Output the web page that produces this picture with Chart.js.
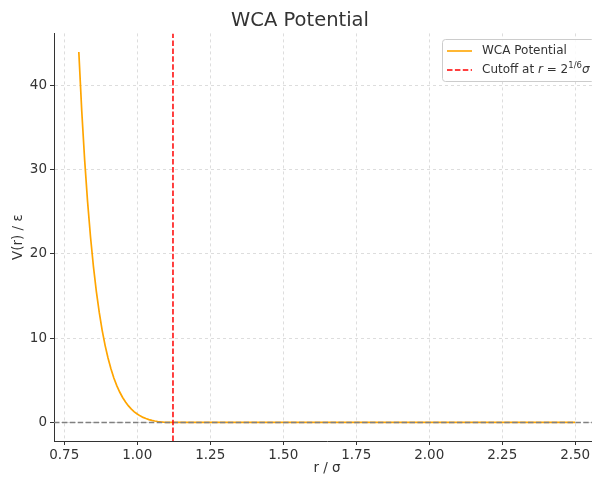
<!DOCTYPE html>
<html>
<head>
<meta charset="utf-8">
<script src="https://cdn.jsdelivr.net/npm/chart.js@4"></script>
<style>
  html, body { margin: 0; padding: 0; background: #fff; overflow: hidden; }
  #wrap { width: 592px; height: 478px; overflow: hidden; }
</style>
</head>
<body>
<div id="wrap"><canvas id="chart" width="600" height="478"></canvas></div>
<script>
// データ
const rValues = [0.80, 0.81, 0.82, 0.83, 0.84, 0.85, 0.86, 0.87, 0.88, 0.89,
                 0.90, 0.91, 0.92, 0.93, 0.94, 0.95, 0.96, 0.97, 0.98, 0.99,
                 1.00, 1.01, 1.02, 1.03, 1.04, 1.05, 1.06, 1.07, 1.08, 1.09,
                 1.10, 1.11, 1.12, 1.13, 1.50, 2.00, 2.50];
const vValues = [43.95, 36.98, 31.12, 26.19, 22.03, 18.52, 15.55, 13.05, 10.93, 9.15,
                 7.64, 6.36, 5.28, 4.37, 3.61, 2.96, 2.42, 1.96, 1.58, 1.26,
                 1.00, 0.78, 0.60, 0.46, 0.34, 0.24, 0.17, 0.11, 0.07, 0.04,
                 0.02, 0.005, 0, 0, 0, 0, 0];
const cutoff = 1.1225;
const xLimits = [0.715, 2.585];
const yLimits = [-2.2, 46.15];
const xTicks = [0.75, 1.00, 1.25, 1.50, 1.75, 2.00, 2.25, 2.50];
const yTicks = [0, 10, 20, 30, 40];

const FONT = "'DejaVu Sans', sans-serif";
const TEXT = '#333333';

// 凡例 (mathtext風)
const legendPlugin = {
    id: 'mplLegend',
    afterDraw(chart) {
        const ctx = chart.ctx;
        const x0 = 442, y0 = 39, w = 152, h = 42;
        ctx.save();
        ctx.fillStyle = 'rgba(255,255,255,0.85)';
        ctx.strokeStyle = '#cccccc';
        ctx.lineWidth = 1;
        ctx.beginPath();
        ctx.roundRect(x0 + 0.5, y0 + 0.5, w, h, 3);
        ctx.fill();
        ctx.stroke();

        // WCA Potential
        ctx.lineWidth = 1.6;
        ctx.strokeStyle = '#ffa500';
        ctx.beginPath();
        ctx.moveTo(447, 51); ctx.lineTo(472, 51);
        ctx.stroke();
        ctx.fillStyle = TEXT;
        ctx.font = '12px ' + FONT;
        ctx.textBaseline = 'middle';
        ctx.fillText('WCA Potential', 482, 51);

        // Cutoff
        ctx.strokeStyle = 'red';
        ctx.setLineDash([5.5, 2.4]);
        ctx.beginPath();
        ctx.moveTo(447, 70); ctx.lineTo(472, 70);
        ctx.stroke();
        ctx.setLineDash([]);
        let x = 482;
        const y = 70;
        const put = (t, font, dy) => {
            ctx.font = font;
            ctx.fillText(t, x, y + (dy || 0));
            x += ctx.measureText(t).width;
        };
        put('Cutoff at ', '12px ' + FONT);
        put('r', 'italic 12px ' + FONT);
        put(' = 2', '12px ' + FONT);
        put('1/6', '8.5px ' + FONT, -4);
        put('σ', 'italic 12px ' + FONT);
        ctx.restore();
    }
};

const gridOpts = {
    color: 'rgba(0,0,0,0.17)',
    lineWidth: 0.8,
    tickColor: '#333333',
    tickBorderDash: [],
    tickWidth: 1,
    tickLength: 4
};

const ctx = document.getElementById('chart').getContext('2d');
const chart = new Chart(ctx, {
    type: 'scatter',
    data: {
        datasets: [
            {
                label: 'WCA Potential',
                data: rValues.map((r, i) => ({ x: r, y: vValues[i] })),
                showLine: true,
                borderColor: '#ffa500',
                borderWidth: 1.7,
                pointRadius: 0,
                tension: 0,
                order: 3
            },
            {
                label: 'zero',
                data: [{ x: xLimits[0], y: 0 }, { x: xLimits[1], y: 0 }],
                showLine: true,
                borderColor: '#808080',
                borderWidth: 1.5,
                borderDash: [5.5, 2.4],
                pointRadius: 0,
                order: 2
            },
            {
                label: 'cutoff',
                data: [{ x: cutoff, y: yLimits[0] }, { x: cutoff, y: yLimits[1] }],
                showLine: true,
                borderColor: 'red',
                borderWidth: 1.5,
                borderDash: [5.5, 2.4],
                pointRadius: 0,
                order: 1
            }
        ]
    },
    options: {
        responsive: false,
        animation: false,
        layout: { padding: { left: 0, right: 0, top: 0, bottom: 1 } },
        plugins: {
            legend: { display: false },
            tooltip: { enabled: false },
            title: {
                display: true,
                text: 'WCA Potential',
                color: TEXT,
                font: { family: FONT, size: 19.5, weight: 'normal' },
                padding: { top: 9, bottom: 1 }
            }
        },
        scales: {
            x: {
                type: 'linear',
                min: xLimits[0],
                max: xLimits[1],
                afterBuildTicks: (axis) => { axis.ticks = xTicks.map(v => ({ value: v })); },
                afterFit: (axis) => { axis.height = 36; },
                ticks: {
                    color: TEXT,
                    font: { family: FONT, size: 13.5 },
                    padding: 2,
                    maxRotation: 0,
                    callback: (v) => v.toFixed(2)
                },
                grid: gridOpts,
                border: { display: true, color: '#333333', width: 1, dash: [3, 3] },
                title: {
                    display: true,
                    text: 'r / σ',
                    color: TEXT,
                    font: { family: FONT, size: 13.5 },
                    padding: { top: 0, bottom: 0 }
                }
            },
            y: {
                type: 'linear',
                min: yLimits[0],
                max: yLimits[1],
                afterBuildTicks: (axis) => { axis.ticks = yTicks.map(v => ({ value: v })); },
                afterFit: (axis) => { axis.width = 54; },
                ticks: {
                    color: TEXT,
                    font: { family: FONT, size: 13.5 },
                    padding: 3
                },
                grid: gridOpts,
                border: { display: true, color: '#333333', width: 1, dash: [3, 3] },
                title: {
                    display: true,
                    text: 'V(r) / ε',
                    color: TEXT,
                    font: { family: FONT, size: 13.5 },
                    padding: { top: 10, bottom: 0 }
                }
            }
        }
    },
    plugins: [legendPlugin]
});
</script>
</body>
</html>
